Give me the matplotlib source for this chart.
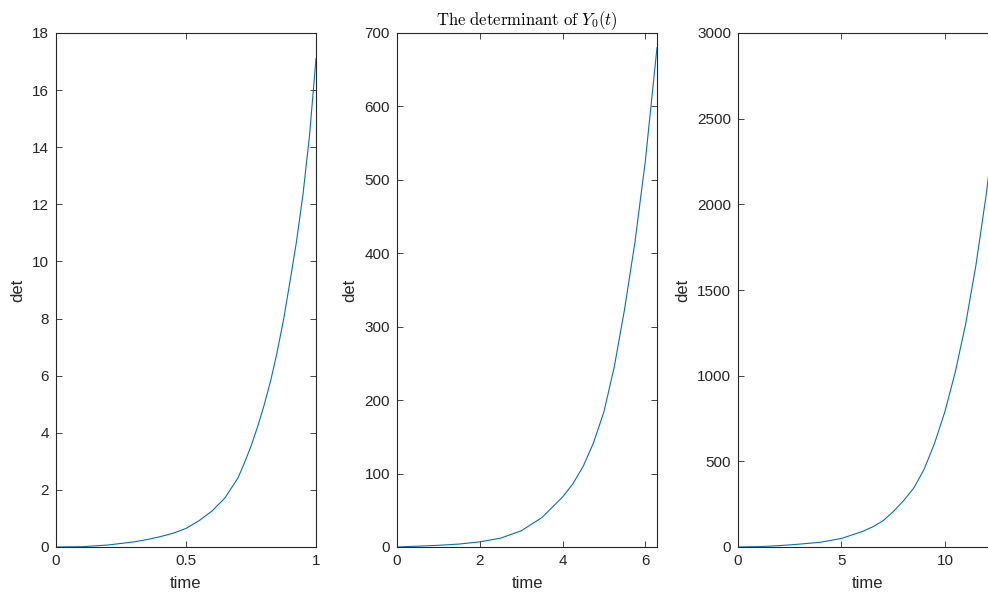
import numpy as np
import matplotlib
matplotlib.use("Agg")
import matplotlib.pyplot as plt

# ---- data ----
t1 = [0, 0.1, 0.2, 0.3, 0.35, 0.4, 0.45, 0.5, 0.55, 0.6, 0.65, 0.7, 0.725, 0.75, 0.775,
      0.8, 0.825, 0.85, 0.875, 0.9, 0.925, 0.95, 0.975, 1.0]
d1 = [0, 0.01, 0.07, 0.18, 0.26, 0.36, 0.48, 0.65, 0.92, 1.26, 1.72, 2.42, 2.95, 3.53, 4.2,
      4.95, 5.8, 6.8, 7.95, 9.3, 10.7, 12.35, 14.4, 17.1]

t2 = [0, 1, 1.5, 2, 2.5, 3, 3.5, 4, 4.25, 4.5, 4.75, 5, 5.25, 5.5, 5.75, 6, 6.283]
d2 = [0, 2.3, 4, 7, 12, 22, 40, 68, 86, 110, 142, 184, 245, 324, 415, 525, 680]

t3 = [0, 1, 2, 3, 4, 5, 6, 6.5, 7, 7.5, 8, 8.5, 9, 9.5, 10, 10.5, 11, 11.5, 12, 12.566]
d3 = [0, 2, 8, 17, 28, 50, 90, 117, 152, 206, 270, 345, 455, 605, 790, 1020, 1300, 1645, 2060, 2620]

xlims = [(0, 1), (0, 2 * np.pi), (0, 4 * np.pi)]
ylims = [(0, 18), (0, 700), (0, 3000)]
xticks = [[0, 0.5, 1], [0, 2, 4, 6], [0, 5, 10]]
xticklabels = [["0", "0.5", "1"], ["0", "2", "4", "6"], ["0", "5", "10"]]
yticks = [np.arange(0, 19, 2), np.arange(0, 701, 100), np.arange(0, 3001, 500)]
title = r"$\mathrm{The\ determinant\ of\ }Y_0(t)$"

plt.rcParams['font.family'] = ['Liberation Sans', 'DejaVu Sans']
plt.rcParams['mathtext.fontset'] = 'cm'

W, H = 988, 595
fig = plt.figure(figsize=(W / 100, H / 100), dpi=100)
lefts = [56, 397, 738]
axw = 260
top, bottom = 33, 547
txtc = '#262626'
lc = '#0072BD'

series = [(t1, d1), (t2, d2), (t3, d3)]
for i, (t, d) in enumerate(series):
    ax = fig.add_axes([lefts[i] / W, (H - bottom) / H, axw / W, (bottom - top) / H])
    ax.plot(t, d, color=lc, lw=0.8)
    ax.set_xlim(*xlims[i])
    ax.set_ylim(*ylims[i])
    ax.set_xticks(xticks[i])
    ax.set_xticklabels(xticklabels[i])
    ax.set_yticks(yticks[i])
    ax.tick_params(direction='in', length=4, width=0.6, top=True, right=True,
                   labelsize=11, colors=txtc, pad=5)
    for s in ax.spines.values():
        s.set_linewidth(0.8)
        s.set_color(txtc)
    ax.set_xlabel('time', fontsize=12, color=txtc, labelpad=6)
    ax.set_ylabel('det', fontsize=12, color=txtc, labelpad=5)
    if i == 1:
        ax.set_title(title, fontsize=12, color='black', pad=6)

fig.savefig('out.png', dpi=100)
